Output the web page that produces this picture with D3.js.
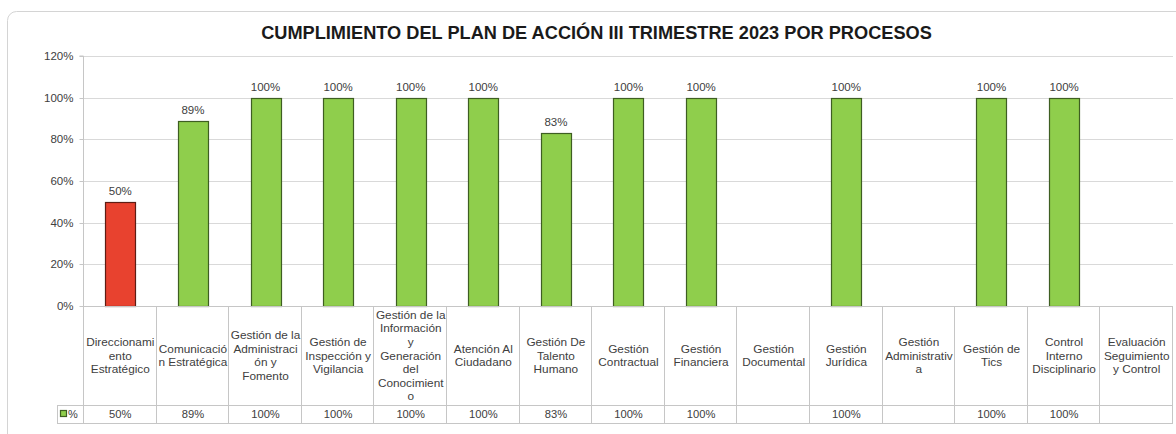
<!DOCTYPE html>
<html><head><meta charset="utf-8">
<script src="https://cdn.jsdelivr.net/npm/d3@7/dist/d3.min.js"></script>
<style>
html,body{margin:0;padding:0;background:#fff;}
svg{display:block;font-family:"Liberation Sans",Arial,sans-serif;}
</style></head><body>
<svg id="c" width="1176" height="434"></svg>
<script>
const title = "CUMPLIMIENTO DEL PLAN DE ACCIÓN III TRIMESTRE 2023 POR PROCESOS";
const categories = [
  "Direccionami\nento\nEstratégico",
  "Comunicació\nn Estratégica",
  "Gestión de la\nAdministraci\nón y\nFomento",
  "Gestión de\nInspección y\nVigilancia",
  "Gestión de la\nInformación\ny\nGeneración\ndel\nConocimient\no",
  "Atención Al\nCiudadano",
  "Gestión De\nTalento\nHumano",
  "Gestión\nContractual",
  "Gestión\nFinanciera",
  "Gestión\nDocumental",
  "Gestión\nJurídica",
  "Gestión\nAdministrativ\na",
  "Gestión de\nTics",
  "Control\nInterno\nDisciplinario",
  "Evaluación\nSeguimiento\ny Control"
];
const values = [50, 89, 100, 100, 100, 100, 83, 100, 100, null, 100, null, 100, 100, null];
const yTicks = [0, 20, 40, 60, 80, 100, 120];
const seriesName = "%";

const svg = d3.select("#c");
const L = 84, R = 1173, T = 56, B = 306;
const rowLabBottom = 405, rowValBottom = 423;
const grid = "#d9d9d9", tbl = "#c6c6c6", txt = "#404040";
const green = "#8fce4c", greenStroke = "#3e5e22", red = "#e8422f", redStroke = "#5e1d14";

// outer border
svg.append("rect").attr("x", 7.5).attr("y", 11.5).attr("width", 1180).attr("height", 440)
  .attr("rx", 9).attr("fill", "none").attr("stroke", "#d4d4d4").attr("stroke-width", 1);

// title
svg.append("text").attr("x", 596.5).attr("y", 38.5).attr("text-anchor", "middle")
  .attr("font-size", 18.2).attr("font-weight", "bold").attr("fill", "#1a1a1a").text(title);

const x = d3.scaleBand().domain(d3.range(categories.length)).range([L, R]).paddingInner(0).paddingOuter(0);
const y = d3.scaleLinear().domain([0, 120]).range([B, T]);

// gridlines
svg.append("g").selectAll("line").data(yTicks.filter(d => d > 0)).join("line")
  .attr("x1", L).attr("x2", R).attr("y1", d => Math.round(y(d)) + 0.5).attr("y2", d => Math.round(y(d)) + 0.5)
  .attr("stroke", grid);

// y axis
const yAxis = d3.axisLeft(y).tickValues(yTicks).tickFormat(d => d + "%").tickSize(4).tickPadding(6);
const ga = svg.append("g").attr("transform", `translate(${L - 0.5},0)`).call(yAxis);
ga.select(".domain").attr("stroke", tbl).attr("d", `M-4,${T}H0V${B}`);
ga.selectAll(".tick line").attr("stroke", tbl);
ga.selectAll(".tick text").attr("fill", txt).attr("font-size", 11.5).attr("font-family", "Liberation Sans, Arial, sans-serif");
ga.selectAll(".tick").attr("transform", d => `translate(0,${Math.round(y(d)) + 0.5})`);

// bars
const bw = 30;
const data = values.map((v, i) => ({i, v})).filter(d => d.v != null);
svg.append("g").selectAll("rect").data(data).join("rect")
  .attr("x", d => Math.round(x(d.i) + x.bandwidth() / 2 - bw / 2) + 0.5)
  .attr("y", d => Math.round(y(d.v)) + 0.5)
  .attr("width", bw)
  .attr("height", d => Math.round(y(0)) - Math.round(y(d.v)))
  .attr("fill", d => d.i === 0 ? red : green)
  .attr("stroke", d => d.i === 0 ? redStroke : greenStroke).attr("stroke-width", 1.2);

// data labels
svg.append("g").selectAll("text").data(data).join("text")
  .attr("x", d => x(d.i) + x.bandwidth() / 2)
  .attr("y", d => y(d.v) - 7)
  .attr("text-anchor", "middle").attr("font-size", 11.5).attr("fill", txt)
  .text(d => d.v + "%");

// table
const tg = svg.append("g");
tg.append("line").attr("x1", L).attr("x2", R).attr("y1", B + 0.5).attr("y2", B + 0.5).attr("stroke", tbl);
tg.append("line").attr("x1", 57).attr("x2", R).attr("y1", rowLabBottom + 0.5).attr("y2", rowLabBottom + 0.5).attr("stroke", tbl);
tg.append("line").attr("x1", 57).attr("x2", R).attr("y1", rowValBottom + 0.5).attr("y2", rowValBottom + 0.5).attr("stroke", tbl);
tg.append("line").attr("x1", 57.5).attr("x2", 57.5).attr("y1", rowLabBottom).attr("y2", rowValBottom + 1).attr("stroke", tbl);
const bounds = d3.range(categories.length + 1).map(i => i < categories.length ? x(i) : R);
tg.selectAll("line.v").data(bounds).join("line").attr("class", "v")
  .attr("x1", d => Math.round(d) - 0.5).attr("x2", d => Math.round(d) - 0.5)
  .attr("y1", B).attr("y2", rowValBottom + 1).attr("stroke", tbl);

// category labels
const lh = 13.6, midY = (B + rowLabBottom) / 2;
categories.forEach((c, i) => {
  const lines = c.split("\n");
  const t = tg.append("text").attr("text-anchor", "middle").attr("font-size", 11.8).attr("fill", txt);
  lines.forEach((ln, k) => {
    t.append("tspan").attr("x", x(i) + x.bandwidth() / 2)
      .attr("y", midY + (k - (lines.length - 1) / 2) * lh + 4).text(ln);
  });
});

// values row
tg.selectAll("text.val").data(values.map((v, i) => ({v, i})).filter(d => d.v != null)).join("text")
  .attr("class", "val").attr("x", d => x(d.i) + x.bandwidth() / 2).attr("y", (rowLabBottom + rowValBottom) / 2 + 4)
  .attr("text-anchor", "middle").attr("font-size", 11.2).attr("fill", txt).text(d => d.v + "%");

// legend key
tg.append("rect").attr("x", 60.5).attr("y", 410.5).attr("width", 6).attr("height", 6)
  .attr("fill", green).attr("stroke", greenStroke).attr("stroke-width", 1.2);
tg.append("text").attr("x", 68).attr("y", 418).attr("font-size", 11).attr("fill", txt).text(seriesName);
</script>
</body></html>
